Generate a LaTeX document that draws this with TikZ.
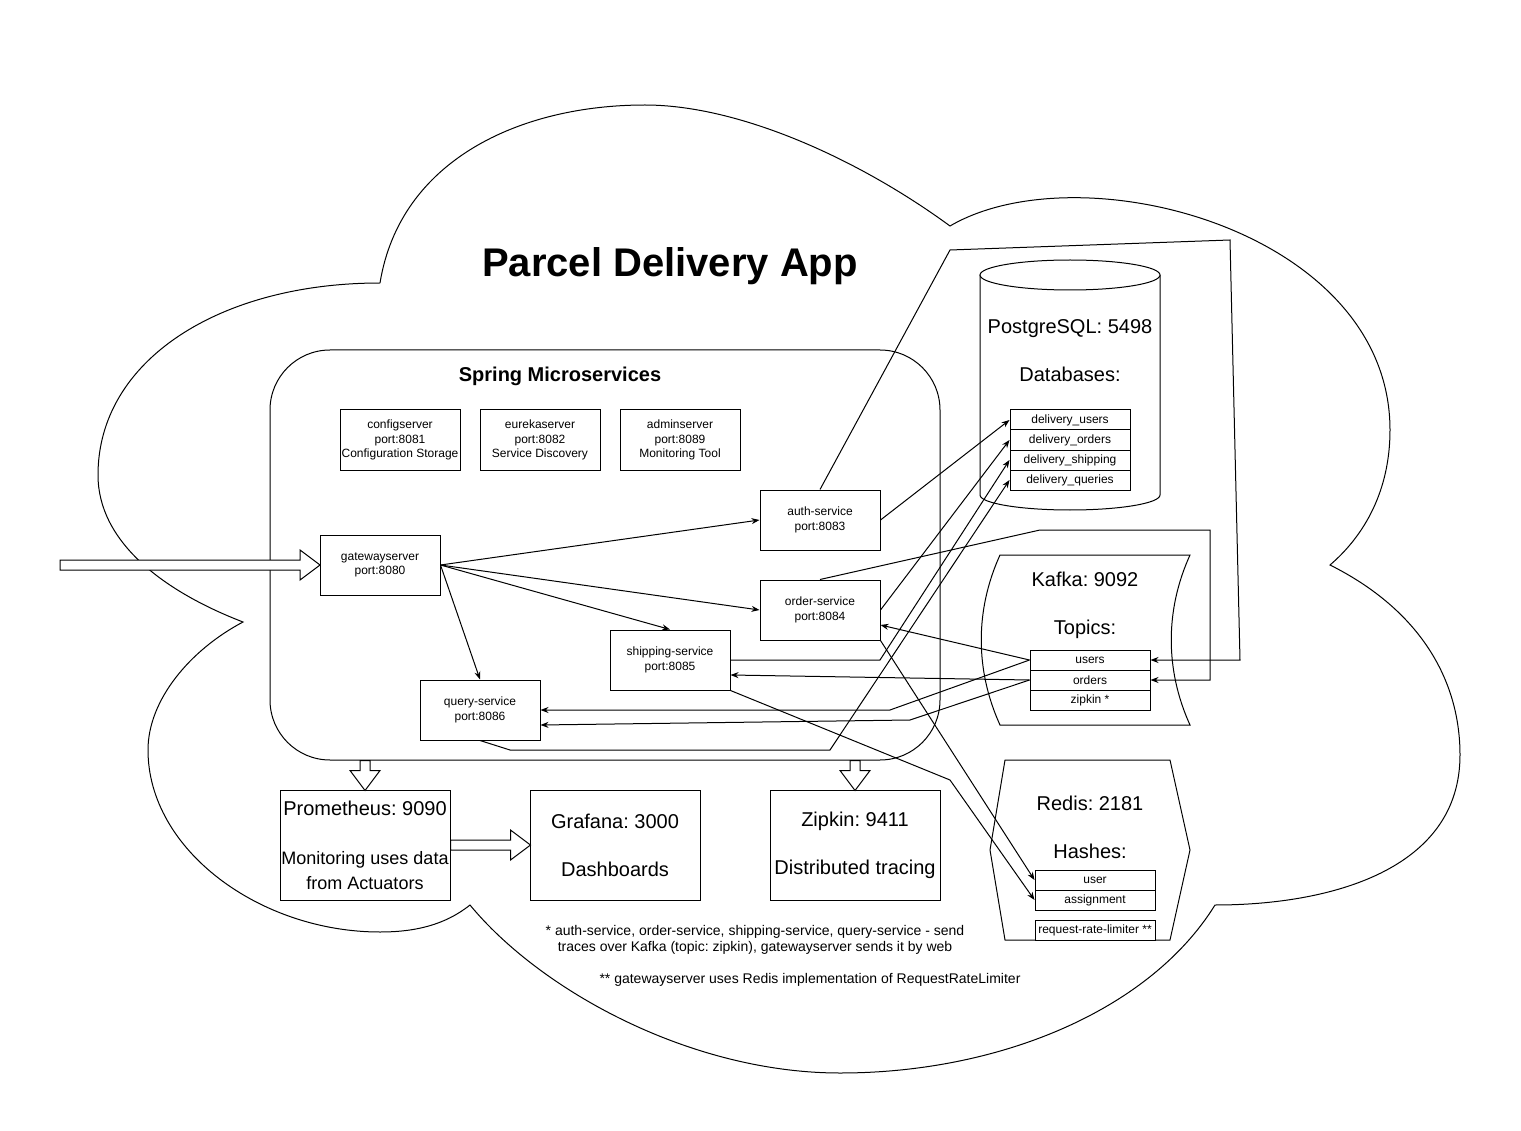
\documentclass[tikz,border=0pt]{standalone}
\usepackage{fontspec}
\setmainfont{Liberation Sans}
\usetikzlibrary{arrows.meta}
\frenchspacing

\tikzset{
    box/.style={draw, fill=white, minimum width=120pt, minimum height=60pt, inner sep=0pt, align=center, font=\fontsize{12}{14.4}\selectfont},
    row/.style={draw, fill=white, minimum width=120pt, minimum height=20pt, inner sep=0pt, font=\fontsize{12}{14.4}\selectfont},
    bigbox/.style={draw, fill=white, minimum width=170pt, minimum height=110pt, inner sep=0pt, align=center, font=\fontsize{20}{24}\selectfont},
    store/.style={align=center, inner sep=0pt, font=\fontsize{20}{24}\selectfont},
    note/.style={align=center, inner sep=0pt, font=\fontsize{14}{16}\selectfont},
    pics/blockarrow/.style={code={
        \draw [fill=white] (0, -5) -- (#1-20, -5) -- (#1-20, -15) -- (#1, 0) -- (#1-20, 15) -- (#1-20, 5) -- (0, 5) -- cycle;
    }}
}

\begin{document}
\begin{tikzpicture}[x=1pt, y=-1pt, line width=1pt, >={Stealth[length=8pt, width=6pt]}]
    \path [fill=white, use as bounding box] (0, 0) rectangle (1521, 1131);

    \draw (380, 283) .. controls (400, 160) and (520, 105) .. (645, 105)
        .. controls (740, 105) and (860, 160) .. (950, 226)
        .. controls (1080, 150) and (1390, 230) .. (1390, 430)
        .. controls (1390, 490) and (1365, 535) .. (1330, 565)
        .. controls (1420, 610) and (1460, 680) .. (1460, 755)
        .. controls (1460, 870) and (1330, 905) .. (1215, 905)
        .. controls (1150, 1010) and (1000, 1073) .. (840, 1073)
        .. controls (690, 1073) and (540, 990) .. (470, 905)
        .. controls (445, 925) and (415, 932) .. (380, 932)
        .. controls (260, 932) and (148, 850) .. (148, 750)
        .. controls (148, 700) and (190, 650) .. (243, 622)
        .. controls (160, 590) and (98, 540) .. (98, 475)
        .. controls (98, 360) and (220, 283) .. (380, 283);

    \node [font=\fontsize{40}{48}\selectfont\bfseries, inner sep=0pt] at (670, 266) (title) {Parcel Delivery App};

    \node [draw, rounded corners=60pt, minimum width=670pt, minimum height=410pt] at (605, 555) (spring) {};
    \node [font=\fontsize{20}{24}\selectfont\bfseries, inner sep=0pt] at (560, 376) (springtitle) {Spring Microservices};

    \node [box] at (400, 440) (configserver) {configserver\\port:8081\\Configuration Storage};
    \node [box] at (540, 440) (eurekaserver) {eurekaserver\\port:8082\\Service Discovery};
    \node [box] at (680, 440) (adminserver) {adminserver\\port:8089\\Monitoring Tool};
    \node [box] at (380, 565) (gateway) {gatewayserver\\port:8080};
    \node [box] at (820, 520) (auth) {auth-service\\port:8083};
    \node [box] at (820, 610) (order) {order-service\\port:8084};
    \node [box] at (670, 660) (shipping) {shipping-service\\port:8085};
    \node [box] at (480, 710) (query) {query-service\\port:8086};

    \draw [fill=white] (980, 275) -- (980, 495) arc [start angle=180, end angle=0, x radius=90, y radius=15] -- (1160, 275);
    \draw [fill=white] (1070, 275) ellipse [x radius=90, y radius=15];
    \node [store] at (1070, 351) (postgres) {PostgreSQL: 5498\\[24pt]Databases:};
    \node [row] at (1070, 420) (dbusers) {delivery\_users};
    \node [row] at (1070, 440) (dborders) {delivery\_orders};
    \node [row] at (1070, 460) (dbshipping) {delivery\_shipping};
    \node [row] at (1070, 480) (dbqueries) {delivery\_queries};

    \draw [fill=white] (1000, 555) -- (1190, 555) .. controls (1165, 610) and (1165, 670) .. (1190, 725)
        -- (1000, 725) .. controls (975, 670) and (975, 610) .. (1000, 555) -- cycle;
    \node [store] at (1085, 605) (kafka) {Kafka: 9092\\[24pt]Topics:};
    \node [row] at (1090, 660) (users) {users};
    \node [row] at (1090, 680) (orders) {orders};
    \node [row] at (1090, 700) (zipkintopic) {zipkin *};

    \draw [fill=white] (1005, 760) -- (1170, 760) -- (1190, 850) -- (1170, 940) -- (1005, 940) -- (990, 850) -- cycle;
    \node [store] at (1090, 827) (redis) {Redis: 2181\\[24pt]Hashes:};
    \node [row] at (1095, 880) (user) {user};
    \node [row] at (1095, 900) (assignment) {assignment};
    \node [row] at (1095, 930) (ratelimiter) {request-rate-limiter **};

    \node [bigbox] at (365, 845) (prometheus) {Prometheus: 9090\\[25pt]{\fontsize{18}{21.6}\selectfont Monitoring uses data}\\[1pt]{\fontsize{18}{21.6}\selectfont from Actuators}};
    \node [bigbox] at (615, 845) (grafana) {Grafana: 3000\\[24pt]Dashboards};
    \node [bigbox] at (855, 845) (zipkin) {Zipkin: 9411\\[24pt]Distributed tracing};

    \node [note] at (755, 940) (tracenote) {* auth-service, order-service, shipping-service, query-service - send\\traces over Kafka (topic: zipkin), gatewayserver sends it by web};
    \node [note] at (810, 980) (redisnote) {** gatewayserver uses Redis implementation of RequestRateLimiter};

    \path [->]
        (gateway.east) edge (auth.west)
        (gateway.east) edge (order.west)
        (gateway.east) edge (shipping.north)
        (gateway.east) edge (query.north)
        (auth.east) edge (dbusers.west)
        (order.east) edge (dborders.west)
        (users.west) edge ([yshift=-15pt]order.east)
        (orders.west) edge ([yshift=-15pt]shipping.east)
        (order.south east) edge (user.west);
    \draw [->] (shipping.east) -- (880, 660) -- (dbshipping.west);
    \draw [->] (query.south) -- (510, 750) -- (830, 750) -- (dbqueries.west);
    \draw [->] (auth.north) -- (950, 250) -- (1230, 240) -- (1240, 660) -- (users.east);
    \draw [->] (order.north) -- (1040, 530) -- (1210, 530) -- (1210, 680) -- (orders.east);
    \draw [->] (users.west) -- (890, 710) -- (query.east);
    \draw [->] (orders.west) -- (910, 720) -- ([yshift=-15pt]query.east);
    \draw [->] (shipping.south east) -- (950, 780) -- (assignment.west);

    \coordinate (entry) at (60, 565);
    \pic at (entry) {blockarrow=260};
    \pic [rotate=-90] at (spring.south -| prometheus.north) {blockarrow=30};
    \pic [rotate=-90] at (spring.south -| zipkin.north) {blockarrow=30};
    \pic at (prometheus.east) {blockarrow=80};
\end{tikzpicture}
\end{document}
